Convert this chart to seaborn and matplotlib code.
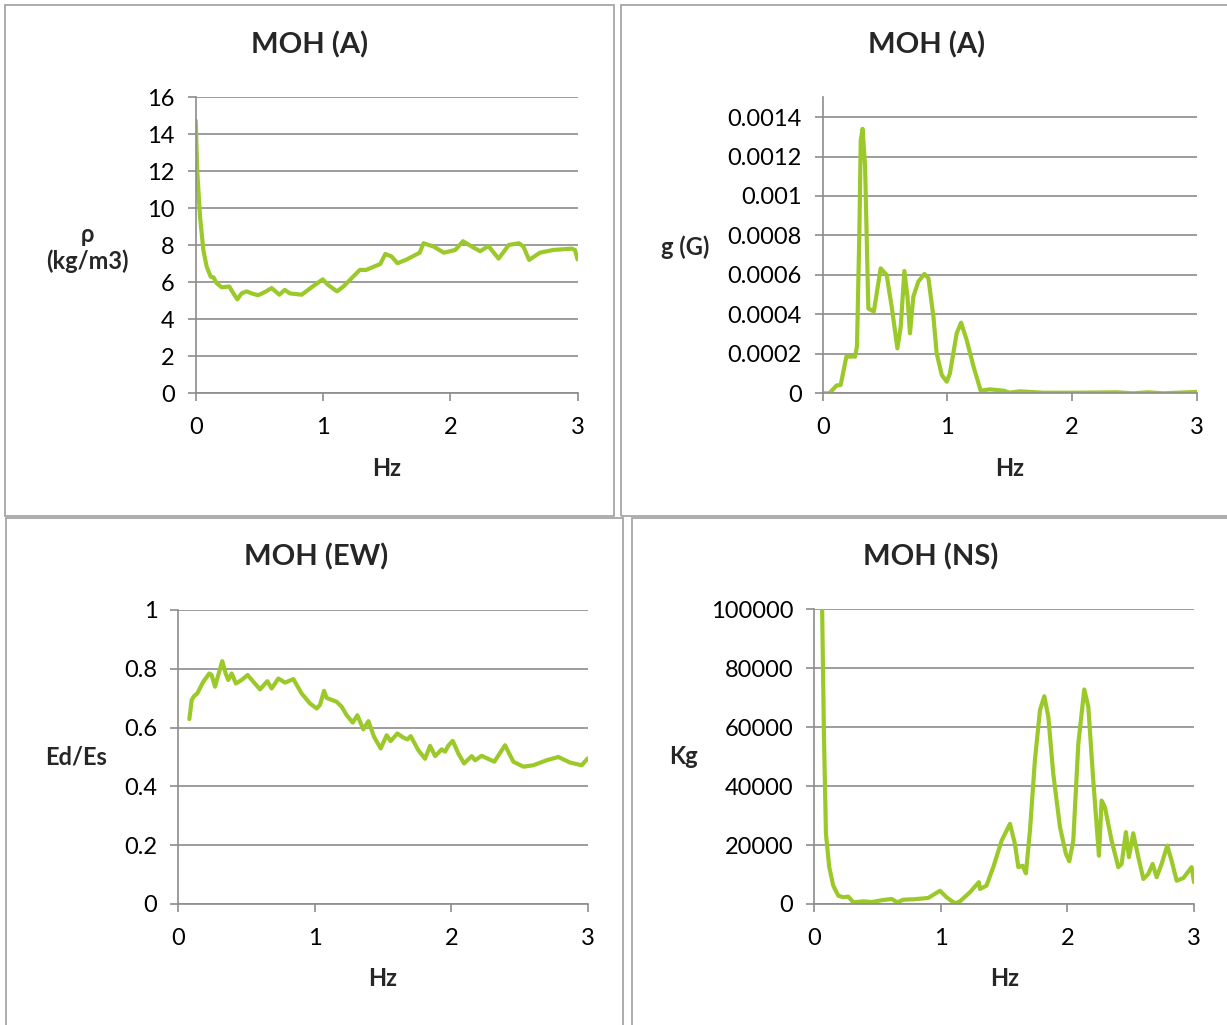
import matplotlib
matplotlib.use("Agg")
import matplotlib.pyplot as plt
import seaborn as sns
import pandas as pd
from matplotlib.patches import Rectangle

# ---------------- data ----------------
rho_hz = [0.0, 0.013, 0.034, 0.06, 0.086, 0.118, 0.139, 0.165, 0.204, 0.264, 0.296, 0.327,
          0.36, 0.40, 0.44, 0.49, 0.545, 0.597, 0.657, 0.70, 0.74, 0.833, 0.91, 0.998,
          1.04, 1.11, 1.16, 1.29, 1.34, 1.45, 1.49, 1.54, 1.585, 1.66, 1.76, 1.79, 1.87,
          1.95, 2.04, 2.10, 2.17, 2.235, 2.30, 2.38, 2.46, 2.54, 2.575, 2.62, 2.705, 2.81,
          2.955, 2.98, 3.0]
rho_val = [14.74, 11.9, 9.55, 7.75, 6.85, 6.3, 6.27, 5.95, 5.73, 5.77, 5.4, 5.08,
           5.4, 5.51, 5.4, 5.3, 5.48, 5.69, 5.33, 5.59, 5.4, 5.33, 5.73, 6.16,
           5.86, 5.51, 5.77, 6.67, 6.67, 6.99, 7.53, 7.39, 7.03, 7.24, 7.6, 8.11, 7.93,
           7.6, 7.75, 8.22, 7.93, 7.68, 7.96, 7.28, 8.02, 8.11, 7.93, 7.21, 7.6, 7.75,
           7.82, 7.75, 7.24]

g_hz = [0.0, 0.053, 0.112, 0.144, 0.19, 0.26, 0.275, 0.294, 0.305, 0.32, 0.34, 0.366,
        0.41, 0.465, 0.513, 0.553, 0.599, 0.626, 0.655, 0.68, 0.70, 0.727, 0.767, 0.816,
        0.848, 0.888, 0.914, 0.955, 0.995, 1.02, 1.075, 1.11, 1.155, 1.21, 1.267, 1.34,
        1.45, 1.50, 1.58, 1.77, 2.04, 2.36, 2.49, 2.61, 2.73, 3.0]
g_val = [0.0, 0.0, 0.00004, 0.000042, 0.000186, 0.000186, 0.00024, 0.00081, 0.00128, 0.00134,
         0.00115, 0.00043, 0.000414, 0.000633, 0.0006, 0.00044, 0.000228, 0.000338, 0.00062,
         0.00049, 0.000304, 0.00049, 0.000566, 0.000605, 0.000583, 0.000389, 0.000203,
         0.000093, 0.000059, 0.0001, 0.000304, 0.000358, 0.00027, 0.000135, 0.0000135,
         0.00002, 0.0000135, 0.000003, 0.00001, 0.000003, 0.000003, 0.000005, 0.0, 0.000005,
         0.0, 0.000007]

ed_hz = [0.081, 0.098, 0.115, 0.139, 0.183, 0.227, 0.244, 0.269, 0.293, 0.322, 0.347, 0.366,
         0.391, 0.422, 0.464, 0.508, 0.55, 0.599, 0.652, 0.684, 0.733, 0.782, 0.843, 0.904,
         0.965, 1.014, 1.038, 1.068, 1.087, 1.16, 1.197, 1.234, 1.278, 1.312, 1.356, 1.393,
         1.434, 1.483, 1.527, 1.556, 1.605, 1.649, 1.679, 1.703, 1.759, 1.808, 1.845, 1.882,
         1.93, 1.955, 1.979, 2.011, 2.052, 2.094, 2.15, 2.175, 2.223, 2.316, 2.394, 2.455,
         2.529, 2.602, 2.70, 2.785, 2.871, 2.956, 3.0]
ed_val = [0.629, 0.694, 0.707, 0.716, 0.756, 0.784, 0.779, 0.739, 0.779, 0.826, 0.784, 0.762,
          0.784, 0.75, 0.762, 0.779, 0.756, 0.73, 0.758, 0.733, 0.767, 0.753, 0.765, 0.716,
          0.682, 0.665, 0.677, 0.725, 0.701, 0.688, 0.671, 0.642, 0.617, 0.642, 0.594, 0.622,
          0.569, 0.529, 0.574, 0.554, 0.58, 0.566, 0.56, 0.571, 0.523, 0.494, 0.538, 0.503,
          0.526, 0.518, 0.539, 0.555, 0.512, 0.478, 0.503, 0.489, 0.504, 0.484, 0.54, 0.484,
          0.467, 0.472, 0.489, 0.5, 0.481, 0.472, 0.495]

kg_hz = [0.062, 0.076, 0.092, 0.118, 0.15, 0.19, 0.229, 0.269, 0.308, 0.387, 0.453, 0.545,
         0.611, 0.656, 0.703, 0.782, 0.90, 0.993, 1.045, 1.111, 1.151, 1.23, 1.30, 1.309,
         1.36, 1.414, 1.48, 1.546, 1.585, 1.612, 1.646, 1.672, 1.704, 1.743, 1.783, 1.817,
         1.849, 1.888, 1.941, 1.988, 2.015, 2.046, 2.086, 2.133, 2.165, 2.204, 2.236, 2.249,
         2.27, 2.296, 2.349, 2.402, 2.428, 2.462, 2.486, 2.52, 2.56, 2.60, 2.639, 2.673,
         2.705, 2.744, 2.789, 2.823, 2.863, 2.916, 2.981, 3.0]
kg_val = [100000, 57800, 23800, 12500, 6200, 2800, 2300, 2500, 570, 900, 680, 1360,
          1700, 570, 1470, 1590, 2040, 4500, 2270, 230, 900, 4000, 7400, 5100,
          6200, 12500, 21500, 27200, 20400, 12500, 13000, 10400, 25000, 48800, 65800, 70500,
          63500, 44200, 26100, 17000, 14500, 21500, 54400, 72800, 66900, 42000, 23800, 16400,
          35100, 32900, 21500, 12500, 13600, 24400, 15900, 24000, 15900, 8500, 10200, 13600,
          9100, 13600, 19800, 14700, 7900, 8800, 12500, 7400]

x_ticks = [0, 1, 2, 3]
x_ticklabels = ["0", "1", "2", "3"]
rho_ticks = [0, 2, 4, 6, 8, 10, 12, 14, 16]
rho_ticklabels = ["0", "2", "4", "6", "8", "10", "12", "14", "16"]
g_ticks = [0, 0.0002, 0.0004, 0.0006, 0.0008, 0.001, 0.0012, 0.0014]
g_ticklabels = ["0", "0.0002", "0.0004", "0.0006", "0.0008", "0.001", "0.0012", "0.0014"]
ed_ticks = [0, 0.2, 0.4, 0.6, 0.8, 1.0]
ed_ticklabels = ["0", "0.2", "0.4", "0.6", "0.8", "1"]
kg_ticks = [0, 20000, 40000, 60000, 80000, 100000]
kg_ticklabels = ["0", "20000", "40000", "60000", "80000", "100000"]

titles = ["MOH (A)", "MOH (A)", "MOH (EW)", "MOH (NS)"]
ylabels = ["ρ\n(kg/m3)", "g (G)", "Ed/Es", "Kg"]
xlabel = "Hz"

# ---------------- style ----------------
sns.set_theme(style="white")
plt.rcParams['font.family'] = ['Lato', 'DejaVu Sans']

W, H = 1227, 1025
fig = plt.figure(figsize=(W / 100, H / 100), dpi=100)
fig.patch.set_facecolor("white")

LINE = "#9bc92a"
GRID = "#8c8c8c"
BORDER = "#a6a6a6"


def fx(px):
    return px / W


def fy(py):
    return 1 - py / H


# panel borders (pixel boxes: left, top, right, bottom)
for (l, t, r, b) in [(5, 5, 614, 516), (621, 5, 1232, 516), (6, 518, 623, 1030), (632, 518, 1232, 1030)]:
    fig.patches.append(Rectangle((fx(l), fy(b)), fx(r - l), (b - t) / H, transform=fig.transFigure,
                                 fill=False, edgecolor=BORDER, linewidth=1.3, zorder=0))

panels = [
    dict(box=(195.7, 97.3, 577.5, 393.3), x=rho_hz, y=rho_val, ylim=(0, 16), yt=rho_ticks, ytl=rho_ticklabels,
         title_xy=(310, 45), ylab_xy=(87, 248), xlab_xy=(387, 468)),
    dict(box=(822.7, 97.3, 1196.7, 393.3), x=g_hz, y=g_val, ylim=(0, 0.0015), yt=g_ticks, ytl=g_ticklabels,
         title_xy=(927, 45), ylab_xy=(685, 247), xlab_xy=(1010, 468)),
    dict(box=(178.3, 610, 587.7, 904), x=ed_hz, y=ed_val, ylim=(0, 1), yt=ed_ticks, ytl=ed_ticklabels,
         title_xy=(316, 557), ylab_xy=(76, 757), xlab_xy=(383, 978)),
    dict(box=(814.3, 609.3, 1194, 904), x=kg_hz, y=kg_val, ylim=(0, 100000), yt=kg_ticks, ytl=kg_ticklabels,
         title_xy=(931, 557), ylab_xy=(683, 757), xlab_xy=(1005, 978)),
]

for i, p in enumerate(panels):
    l, t, r, b = p["box"]
    ax = fig.add_axes([fx(l), fy(b), (r - l) / W, (b - t) / H])
    df = pd.DataFrame({"Hz": p["x"], "v": p["y"]})
    sns.lineplot(data=df, x="Hz", y="v", ax=ax, color=LINE, linewidth=3.0, sort=False,
                 estimator=None, solid_capstyle="round", solid_joinstyle="round")
    ax.set_xlim(0, 3)
    ax.set_ylim(*p["ylim"])
    ax.set_xticks(x_ticks)
    ax.set_xticklabels(x_ticklabels)
    ax.set_yticks(p["yt"])
    ax.set_yticklabels(p["ytl"])
    ax.set_xlabel("")
    ax.set_ylabel("")
    ax.grid(axis="y", color=GRID, linewidth=1.2)
    ax.grid(axis="x", visible=False)
    ax.set_axisbelow(True)
    for s in ["top", "right"]:
        ax.spines[s].set_visible(False)
    for s in ["left", "bottom"]:
        ax.spines[s].set_color(GRID)
        ax.spines[s].set_linewidth(1.2)
    ax.tick_params(axis="both", which="major", direction="out", length=6, width=1.2, color=GRID,
                   labelsize=17, labelcolor="black", bottom=True, left=True)
    ax.tick_params(axis="y", pad=9)
    ax.tick_params(axis="x", pad=11)
    ax.set_facecolor("none")

    tx, ty = p["title_xy"]
    fig.text(fx(tx), fy(ty), titles[i], ha="center", va="center", fontsize=21, fontweight="bold")
    yx, yy = p["ylab_xy"]
    fig.text(fx(yx), fy(yy), ylabels[i], ha="center", va="center", fontsize=17, fontweight="bold",
             linespacing=1.15)
    xx, xy = p["xlab_xy"]
    fig.text(fx(xx), fy(xy), xlabel, ha="center", va="center", fontsize=17, fontweight="bold")

fig.savefig("out.png", dpi=100, facecolor="white")
